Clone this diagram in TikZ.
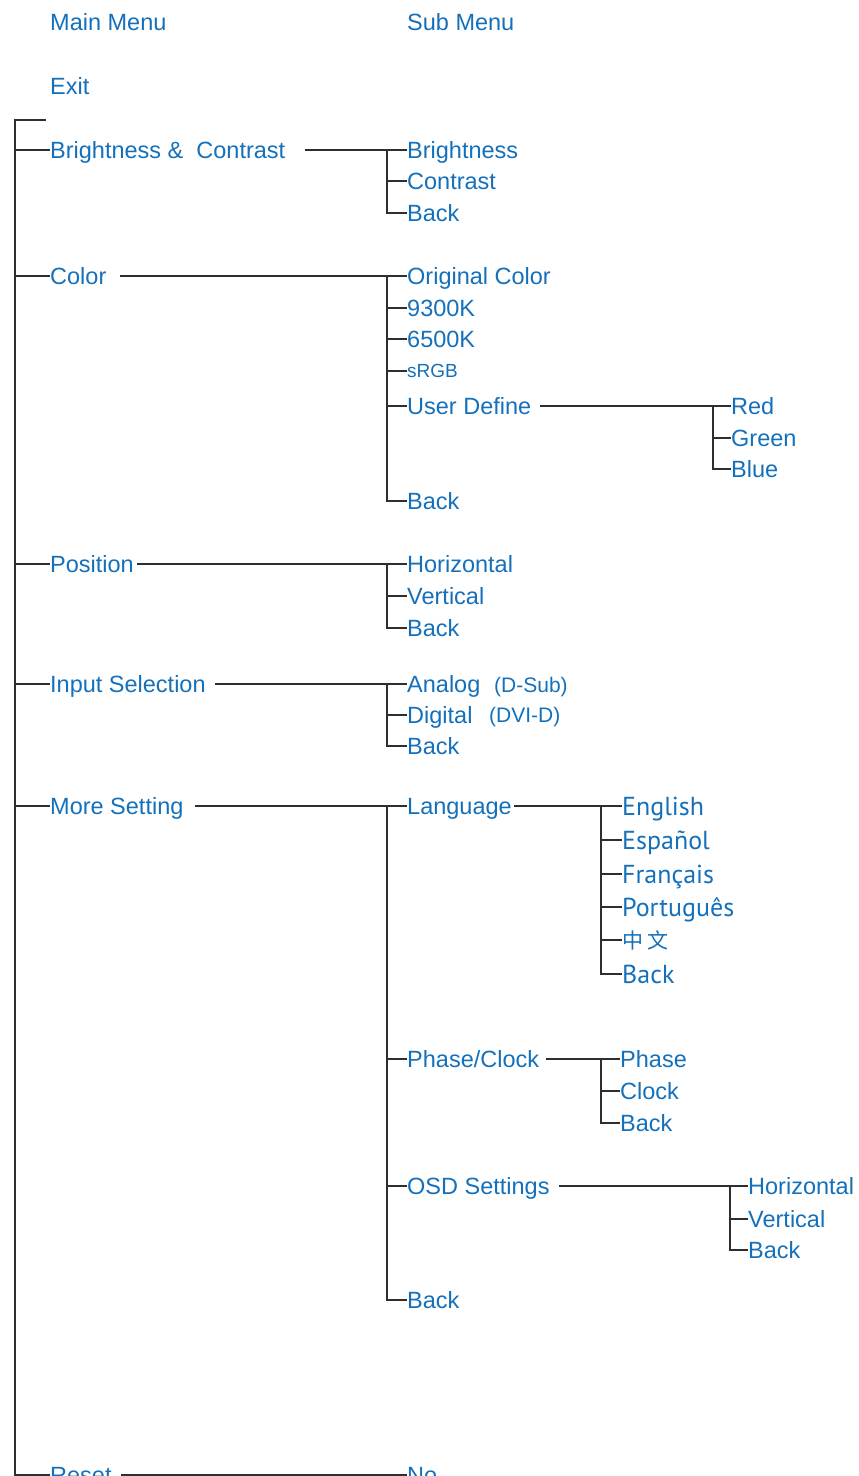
\documentclass[tikz,border=0pt]{standalone}
\usepackage{fontspec}
\setmainfont{Liberation Sans}
\newfontfamily\langfont{PT Sans}
\newfontfamily\cjkfont{Noto Sans CJK SC}
\definecolor{menublue}{RGB}{20,112,186}
\begin{document}
\begin{tikzpicture}[x=1pt,y=-1pt,
  lbl/.style={anchor=west,inner sep=0pt,text=menublue,font=\fontsize{23.5}{24}\selectfont,text height=16.8pt,text depth=0pt},
  small/.style={lbl,font=\fontsize{19}{20}\selectfont,text height=13.6pt},
  paren/.style={lbl,font=\fontsize{21}{22}\selectfont,text height=15pt},
  lang/.style={lbl,font=\langfont\fontsize{26}{27}\selectfont,text height=18pt},
  cjk/.style={lbl,font=\cjkfont\fontsize{21}{22}\selectfont,text height=16pt},
  conn/.style={draw=black!82,line width=1.7pt}]
\useasboundingbox (0,0) rectangle (859,1476);
\clip (0,0) rectangle (859,1476);
% headers
\node[lbl] (mm) at (50,22) {Main Menu};
\node[lbl] (sm) at (407,22) {Sub Menu};
\node[lbl] (exit) at (50,86) {Exit};
% main spine
\coordinate (mtop) at (15,120);
\coordinate (tstub) at (46,120);
\coordinate (mbot) at (15,1480);
\draw[conn] (tstub) -- (mtop) -- (mbot);
% column x coordinates
\coordinate (vA) at (387,0);
\coordinate (vB) at (713,0);
\coordinate (vC) at (601,0);
\coordinate (vD) at (730,0);
% main items
\node[lbl] (bc) at (50,150) {Brightness \& \ Contrast};
\node[lbl] (col) at (50,276) {Color};
\node[lbl] (pos) at (50,564) {Position};
\node[lbl] (inp) at (50,684) {Input Selection};
\node[lbl] (ms) at (50,806) {More Setting};
\node[lbl] (rs) at (50,1475) {Reset};
\foreach \n in {bc,col,pos,inp,ms,rs} \draw[conn] (\n.west -| mtop) -- (\n.west);
% Brightness & Contrast
\node[lbl] (bc1) at (407,150) {Brightness};
\node[lbl] (bc2) at (407,181) {Contrast};
\node[lbl] (bc3) at (407,213) {Back};
\draw[conn] ([xshift=19pt]bc.east) -- (bc1.west);
\draw[conn] (bc1.west -| vA) |- (bc3.west);
\draw[conn] (bc2.west -| vA) -- (bc2.west);
% Color
\node[lbl] (col1) at (407,276) {Original Color};
\node[lbl] (col2) at (407,308) {9300K};
\node[lbl] (col3) at (407,339) {6500K};
\node[small] (col4) at (407,371) {sRGB};
\node[lbl] (col5) at (407,406) {User Define};
\node[lbl] (col6) at (407,501) {Back};
\draw[conn] ([xshift=13pt]col.east) -- (col1.west);
\draw[conn] (col1.west -| vA) |- (col6.west);
\foreach \n in {col2,col3,col4,col5} \draw[conn] (\n.west -| vA) -- (\n.west);
\node[lbl] (ud1) at (731,406) {Red};
\node[lbl] (ud2) at (731,438) {Green};
\node[lbl] (ud3) at (731,469) {Blue};
\draw[conn] ([xshift=9pt]col5.east) -- (ud1.west);
\draw[conn] (ud1.west -| vB) |- (ud3.west);
\draw[conn] (ud2.west -| vB) -- (ud2.west);
% Position
\node[lbl] (pos1) at (407,564) {Horizontal};
\node[lbl] (pos2) at (407,596) {Vertical};
\node[lbl] (pos3) at (407,628) {Back};
\draw[conn] ([xshift=3pt]pos.east) -- (pos1.west);
\draw[conn] (pos1.west -| vA) |- (pos3.west);
\draw[conn] (pos2.west -| vA) -- (pos2.west);
% Input Selection
\node[lbl] (inp1) at (407,684) {Analog};
\node[lbl] (inp2) at (407,715) {Digital};
\node[lbl] (inp3) at (407,746) {Back};
\node[paren] (inp1p) at (494,685) {(D-Sub)};
\node[paren] (inp2p) at (489,715) {(DVI-D)};
\draw[conn] ([xshift=9pt]inp.east) -- (inp1.west);
\draw[conn] (inp1.west -| vA) |- (inp3.west);
\draw[conn] (inp2.west -| vA) -- (inp2.west);
% More Setting
\node[lbl] (ms1) at (407,806) {Language};
\node[lbl] (ms2) at (407,1059) {Phase/Clock};
\node[lbl] (ms3) at (407,1186) {OSD Settings};
\node[lbl] (ms4) at (407,1300) {Back};
\draw[conn] ([xshift=11pt]ms.east) -- (ms1.west);
\draw[conn] (ms1.west -| vA) |- (ms4.west);
\foreach \n in {ms2,ms3} \draw[conn] (\n.west -| vA) -- (\n.west);
% Language
\node[lang] (lg1) at (622,806) {English};
\node[lang] (lg2) at (622,840) {Español};
\node[lang] (lg3) at (622,874) {Français};
\node[lang] (lg4) at (622,907) {Português};
\node[cjk] (lg5) at (622,940) {中 文};
\node[lang] (lg6) at (622,974) {Back};
\draw[conn] ([xshift=2pt]ms1.east) -- (lg1.west);
\draw[conn] (lg1.west -| vC) |- (lg6.west);
\foreach \n in {lg2,lg3,lg4,lg5} \draw[conn] (\n.west -| vC) -- (\n.west);
% Phase/Clock
\node[lbl] (ph1) at (620,1059) {Phase};
\node[lbl] (ph2) at (620,1091) {Clock};
\node[lbl] (ph3) at (620,1123) {Back};
\draw[conn] ([xshift=7pt]ms2.east) -- (ph1.west);
\draw[conn] (ph1.west -| vC) |- (ph3.west);
\draw[conn] (ph2.west -| vC) -- (ph2.west);
% OSD Settings
\node[lbl] (os1) at (748,1186) {Horizontal};
\node[lbl] (os2) at (748,1219) {Vertical};
\node[lbl] (os3) at (748,1250) {Back};
\draw[conn] ([xshift=9pt]ms3.east) -- (os1.west);
\draw[conn] (os1.west -| vD) |- (os3.west);
\draw[conn] (os2.west -| vD) -- (os2.west);
% Reset
\node[lbl] (no) at (407,1475) {No};
\draw[conn] ([xshift=9pt]rs.east) -- (no.west);
\end{tikzpicture}
\end{document}
